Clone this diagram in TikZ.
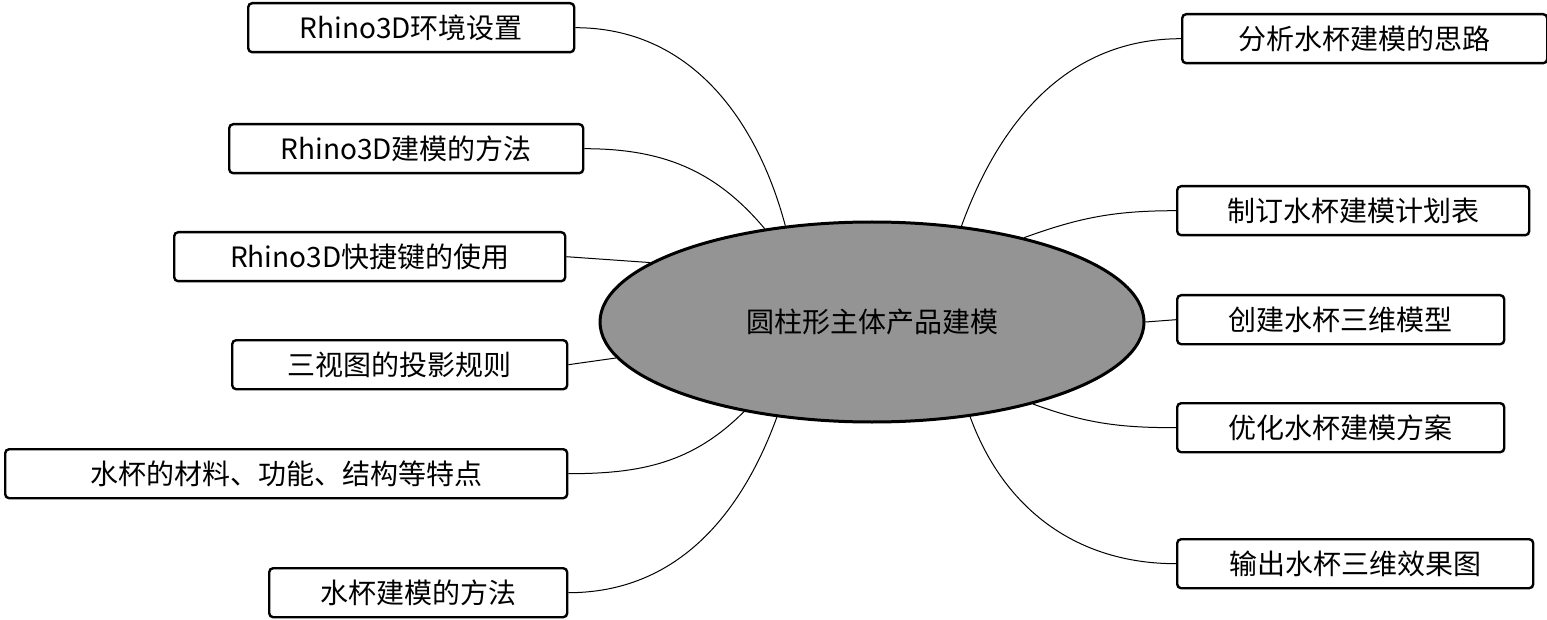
\documentclass[tikz,border=0pt]{standalone}
\usepackage{fontspec}
\setmainfont{Liberation Serif}
\newfontfamily\cjk{Noto Sans CJK SC}
\usetikzlibrary{shapes.geometric}
\tikzset{every picture/.style={line width=0.75pt}}
\tikzset{
  itembox/.style={draw,line width=1.2pt,rounded corners=2pt,anchor=north west,
    minimum height=24.5pt,inner sep=0pt,font=\cjk\fontsize{14}{16}\selectfont},
  link/.style={line width=0.5pt}
}
% box: name, x1, y1, x2, text
\newcommand{\itemnode}[5]{\node[itembox,minimum width={(#4-#2)*0.5pt}] (#1) at (#2,#3) {#5};}
\begin{document}
\begin{tikzpicture}[x=0.5pt,y=-0.5pt]
\useasboundingbox (0,0) rectangle (1547,620);
\node[ellipse,draw,fill=gray!80!black!70,line width=1.5pt,minimum width=272pt,minimum height=100pt,
  font=\cjk\fontsize{14}{16}\selectfont] (center) at (872,322) {圆柱形主体产品建模};
% left side
\itemnode{l1}{247}{2}{573}{Rhino3D环境设置}
\itemnode{l2}{228}{123}{582}{Rhino3D建模的方法}
\itemnode{l3}{173}{231}{564}{Rhino3D快捷键的使用}
\itemnode{l4}{231}{339}{566}{三视图的投影规则}
\itemnode{l5}{4}{448}{566}{水杯的材料、功能、结构等特点}
\itemnode{l6}{268}{567}{566}{水杯建模的方法}
% right side
\itemnode{r1}{1181}{13}{1546}{分析水杯建模的思路}
\itemnode{r2}{1176}{185}{1528}{制订水杯建模计划表}
\itemnode{r3}{1176}{294}{1503}{创建水杯三维模型}
\itemnode{r4}{1176}{402}{1503}{优化水杯建模方案}
\itemnode{r5}{1176}{538}{1532}{输出水杯三维效果图}
% links
\draw[link] (center.132) to[out=105,in=0] (l1.east);
\draw[link] (center.139) to[out=130,in=0] (l2.east);
\draw[link] (center.165) -- (l3.east);
\draw[link] (center.188) -- (l4.east);
\draw[link] (center.215) to[out=225,in=0] (l5.east);
\draw[link] (center.225) to[out=250,in=0] (l6.east);
\draw[link] (center.47) to[out=70,in=180] (r1.west);
\draw[link] (center.29) to[out=20,in=180] (r2.west);
\draw[link] (center.east) -- (r3.west);
\draw[link] (center.333) to[out=-20,in=180] (r4.west);
\draw[link] (center.316) to[out=290,in=180] (r5.west);
\end{tikzpicture}
\end{document}
